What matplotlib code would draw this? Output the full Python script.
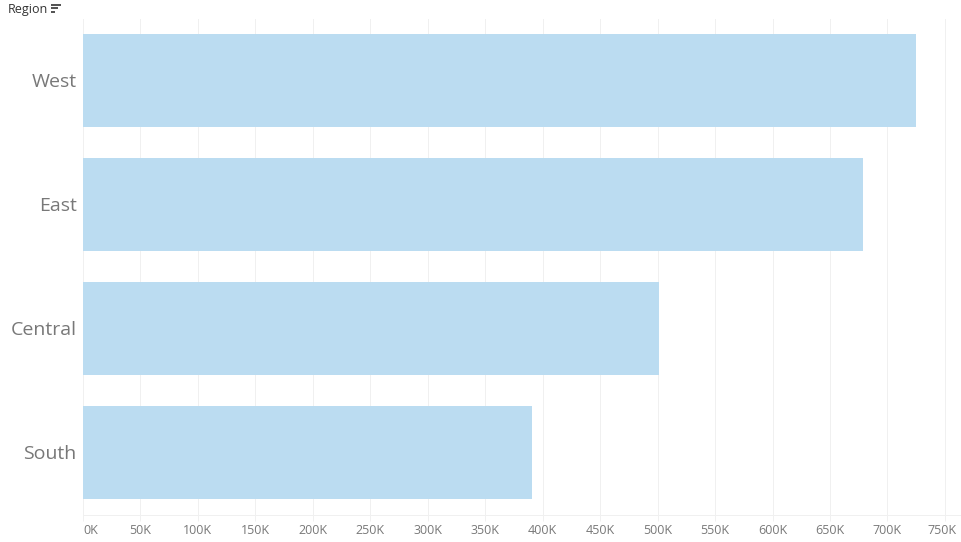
import matplotlib
matplotlib.use('Agg')  # no display here
import matplotlib.pyplot as plt
from matplotlib.patches import Rectangle
from matplotlib.transforms import ScaledTranslation

W, H = 961, 542

regions = ['West', 'East', 'Central', 'South']
sales_k = [725, 679, 501, 391]
x_ticks = list(range(0, 751, 50))
x_labels = [f'{t}K' for t in x_ticks]

plt.rcParams['font.family'] = ['Open Sans', 'DejaVu Sans']

fig = plt.figure(figsize=(W / 100, H / 100), dpi=100, facecolor='white')
# axes placed in pixels, top of plot at y=18, bottom at y=514
ax = fig.add_axes([83 / W, 1 - 514.5 / H, (W - 83) / W, 496 / H])

ax.barh(regions, sales_k, height=0.75, color='#bbdcf1', zorder=3)
ax.set_ylim(3.5, -0.5)
ax.set_xlim(0, 764)

ax.set_xticks(x_ticks, x_labels)
ax.grid(axis='x', color='#f0f0f0', linewidth=0.72, zorder=0)
ax.tick_params(axis='x', length=4.3, width=0.72, color='#f0f0f0', labelsize=9,
               labelcolor='#787878', pad=2.5)
ax.tick_params(axis='y', length=0, labelsize=14, labelcolor='#787878', pad=4.5)

# first and last labels are pushed inside the view, like the original
nudge = {0: 8 / 100, len(x_ticks) - 1: -3 / 100}
for i, lab in enumerate(ax.get_xticklabels()):
    if i in nudge:
        lab.set_transform(lab.get_transform() + ScaledTranslation(nudge[i], 0, fig.dpi_scale_trans))
for lab in ax.get_yticklabels():
    lab.set_transform(lab.get_transform() + ScaledTranslation(0, 0.4 / 100, fig.dpi_scale_trans))

for side in ['top', 'right']:
    ax.spines[side].set_visible(False)
for side in ['bottom', 'left']:
    ax.spines[side].set_color('#f0f0f0')
    ax.spines[side].set_linewidth(0.72)

# header with sort icon
fig.text(8 / W, 1 - 10 / H, 'Region', fontsize=9, color='#333333', va='center')
for y, w in [(4.5, 10), (8, 6.5), (11.5, 3.5)]:
    fig.add_artist(Rectangle((51 / W, 1 - (y + 1) / H), w / W, 1.7 / H,
                             transform=fig.transFigure, color='#555555', lw=0))

fig.savefig('out.png', dpi=100)
